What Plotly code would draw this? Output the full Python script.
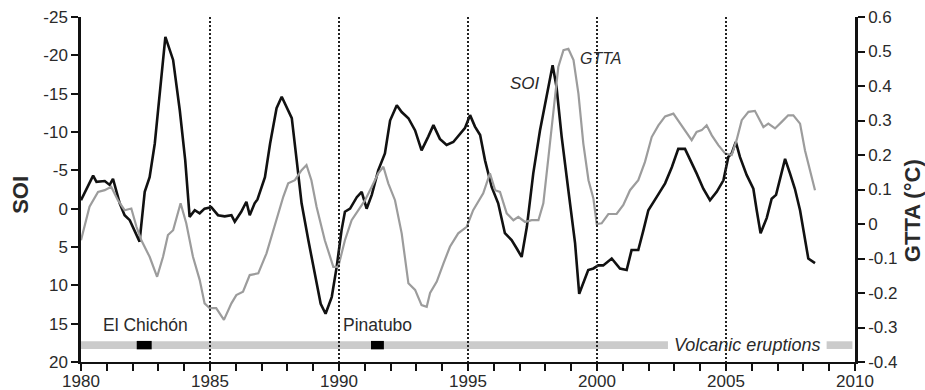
import plotly.graph_objects as go

# ---------------- data ----------------
soi_years = [1980.0, 1980.47, 1980.6, 1980.92, 1981.11, 1981.24, 1981.5, 1981.69, 1981.89, 1982.08,
             1982.27, 1982.47, 1982.66, 1982.86, 1983.05, 1983.27, 1983.57, 1983.83, 1984.04, 1984.21,
             1984.41, 1984.6, 1984.79, 1985.05, 1985.31, 1985.57, 1985.83, 1985.96, 1986.21, 1986.41,
             1986.54, 1986.73, 1986.84, 1987.13, 1987.33, 1987.58, 1987.78, 1987.97, 1988.17, 1988.36,
             1988.55, 1988.81, 1989.07, 1989.29, 1989.48, 1989.72, 1989.91, 1990.1, 1990.23, 1990.43,
             1990.69, 1990.88, 1991.07, 1991.27, 1991.52, 1991.78, 1991.98, 1992.24, 1992.43, 1992.69,
             1992.95, 1993.2, 1993.46, 1993.66, 1993.91, 1994.17, 1994.43, 1994.69, 1994.88, 1995.08,
             1995.27, 1995.47, 1995.66, 1995.92, 1996.17, 1996.43, 1996.69, 1996.89, 1997.08, 1997.28,
             1997.53, 1997.79, 1998.05, 1998.28, 1998.43, 1998.63, 1998.89, 1999.15, 1999.31, 1999.47,
             1999.66, 1999.86, 2000.05, 2000.24, 2000.57, 2000.89, 2001.15, 2001.34, 2001.6, 2001.8,
             2001.99, 2002.31, 2002.64, 2002.9, 2003.15, 2003.41, 2003.6, 2003.86, 2004.12, 2004.38,
             2004.64, 2004.9, 2005.09, 2005.22, 2005.38, 2005.54, 2005.8, 2006.06, 2006.19, 2006.34,
             2006.58, 2006.77, 2006.94, 2007.09, 2007.29, 2007.48, 2007.67, 2007.87, 2008.06, 2008.19,
             2008.45]
soi_values = [-1.1, -4.3, -3.5, -3.6, -3.1, -3.9, -0.7, 0.85, 1.5, 3.0,
              4.3, -2.2, -4.1, -8.5, -15.0, -22.4, -19.4, -12.8, -6.3, 1.07,
              0.2, 0.6, 0.0, -0.2, 0.85, 1.0, 0.85, 1.7, 0.4, -0.9,
              0.85, -0.7, -1.2, -4.1, -8.5, -13.1, -14.6, -13.3, -11.8, -6.3,
              -0.7, 4.1, 8.4, 12.4, 13.7, 11.5, 7.6, 2.8, 0.4, 0.0,
              -1.5, -2.2, 0.0, -1.8, -5.0, -7.2, -11.5, -13.5, -12.6, -11.8,
              -10.2, -7.6, -9.4, -10.9, -9.1, -8.3, -8.7, -9.8, -10.5, -12.2,
              -10.7, -9.6, -6.3, -2.8, -0.7, 3.2, 4.1, 5.2, 6.3, 2.4,
              -4.6, -10.2, -15.0, -18.7, -15.9, -9.4, -2.4, 4.5, 11.1, 9.7,
              8.0, 7.8, 7.4, 7.4, 6.5, 7.8, 8.0, 5.4, 5.4, 2.8,
              0.2, -1.5, -3.3, -5.4, -7.8, -7.8, -6.5, -4.6, -2.6, -1.1,
              -2.2, -3.7, -6.75, -7.2, -8.7, -6.75, -4.4, -2.6, 0.2, 3.2,
              1.2, -1.3, -1.8, -3.7, -6.5, -4.6, -2.6, 0.2, 3.7, 6.5,
              7.1]

gtta_years = [1980.0, 1980.33, 1980.66, 1980.92, 1981.17, 1981.43, 1981.69, 1981.95, 1982.15, 1982.34,
              1982.66, 1982.95, 1983.18, 1983.37, 1983.57, 1983.86, 1984.08, 1984.34, 1984.6, 1984.79,
              1984.99, 1985.24, 1985.54, 1985.83, 1986.02, 1986.28, 1986.54, 1986.87, 1987.19, 1987.52,
              1987.84, 1988.03, 1988.29, 1988.55, 1988.74, 1988.93, 1989.13, 1989.45, 1989.78, 1989.97,
              1990.23, 1990.49, 1990.75, 1991.01, 1991.27, 1991.52, 1991.72, 1991.91, 1992.17, 1992.43,
              1992.69, 1992.95, 1993.2, 1993.4, 1993.53, 1993.79, 1994.05, 1994.3, 1994.62, 1994.95,
              1995.2, 1995.59, 1995.85, 1996.05, 1996.24, 1996.5, 1996.76, 1996.95, 1997.21, 1997.47,
              1997.73, 1997.92, 1998.12, 1998.31, 1998.5, 1998.7, 1998.89, 1999.09, 1999.28, 1999.47,
              1999.67, 1999.86, 1999.99, 2000.18, 2000.44, 2000.76, 2001.02, 2001.28, 2001.6, 2001.86,
              2002.12, 2002.38, 2002.64, 2002.96, 2003.22, 2003.48, 2003.67, 2003.86, 2004.06, 2004.25,
              2004.45, 2004.71, 2004.97, 2005.22, 2005.41, 2005.61, 2005.87, 2006.12, 2006.32, 2006.45,
              2006.64, 2006.9, 2007.16, 2007.41, 2007.61, 2007.87, 2008.06, 2008.26, 2008.45]
gtta_values = [-0.047, 0.05, 0.093, 0.098, 0.108, 0.069, 0.040, 0.045, -0.008, -0.047,
               -0.095, -0.153, -0.095, -0.032, -0.018, 0.060, 0.002, -0.095, -0.162, -0.230,
               -0.244, -0.244, -0.278, -0.230, -0.206, -0.196, -0.148, -0.143, -0.085, 0.002,
               0.079, 0.118, 0.127, 0.156, 0.171, 0.127, 0.050, -0.047, -0.124, -0.124,
               -0.047, 0.011, 0.040, 0.069, 0.108, 0.147, 0.166, 0.118, 0.069, -0.027,
               -0.172, -0.191, -0.235, -0.240, -0.200, -0.167, -0.114, -0.066, -0.027, -0.008,
               0.040, 0.089, 0.147, 0.098, 0.093, 0.031, 0.011, 0.021, 0.006, 0.011,
               0.011, 0.060, 0.195, 0.330, 0.455, 0.504, 0.508, 0.475, 0.378, 0.233,
               0.127, 0.074, 0.0, 0.002, 0.029, 0.029, 0.055, 0.098, 0.127, 0.180,
               0.252, 0.286, 0.312, 0.320, 0.291, 0.262, 0.243, 0.267, 0.272, 0.286,
               0.257, 0.228, 0.204, 0.200, 0.243, 0.301, 0.325, 0.328, 0.301, 0.281,
               0.291, 0.277, 0.296, 0.315, 0.315, 0.291, 0.214, 0.156, 0.098]

eruption_names = ["El Chichón", "Pinatubo"]
eruption_start = [1982.16, 1991.24]
eruption_end = [1982.74, 1991.74]
eruption_label_x = [1982.5, 1991.5]

band_segments_start = [1980.0, 2008.9]
band_segments_end = [2002.75, 2009.9]

decade_marks = [1985, 1990, 1995, 2000, 2005]

x_tick_years = list(range(1980, 2011))
x_tick_text = [str(y) if y % 5 == 0 else "" for y in x_tick_years]
soi_ticks = [-25, -20, -15, -10, -5, 0, 5, 10, 15, 20]
soi_tick_text = ["-25", "-20", "-15", "-10", "-5", "0", "5", "10", "15", "20"]
gtta_ticks = [0.6, 0.5, 0.4, 0.3, 0.2, 0.1, 0.0, -0.1, -0.2, -0.3, -0.4]
gtta_tick_text = ["0.6", "0.5", "0.4", "0.3", "0.2", "0.1", "0", "-0.1", "-0.2", "-0.3", "-0.4"]

FONT = "Liberation Sans, Arial, sans-serif"
TXT = "#2a2a2a"

fig = go.Figure()
fig.add_trace(go.Scatter(x=gtta_years, y=gtta_values, mode="lines", yaxis="y2",
                         line=dict(color="#9c9c9c", width=2.2), showlegend=False))
fig.add_trace(go.Scatter(x=soi_years, y=soi_values, mode="lines", yaxis="y",
                         line=dict(color="#111111", width=2.6), showlegend=False))

shapes = []
for s, e in zip(band_segments_start, band_segments_end):
    shapes.append(dict(type="rect", xref="x", yref="y", x0=s, x1=e, y0=17.3, y1=18.3,
                       fillcolor="#cbcbcb", line=dict(width=0), layer="below"))
for d in decade_marks:
    shapes.append(dict(type="line", xref="x", yref="y", x0=d, x1=d, y0=-25, y1=20,
                       line=dict(color="#222222", width=2, dash="2px,2px")))
for s, e in zip(eruption_start, eruption_end):
    shapes.append(dict(type="rect", xref="x", yref="y", x0=s, x1=e, y0=17.25, y1=18.35,
                       fillcolor="#000000", line=dict(width=0)))

annotations = []
for name, lx in zip(eruption_names, eruption_label_x):
    annotations.append(dict(x=lx, y=15.2, xref="x", yref="y", text=name, showarrow=False,
                            font=dict(family=FONT, size=17.5, color=TXT)))
annotations.append(dict(x=2005.8, y=17.8, xref="x", yref="y", text="<i>Volcanic eruptions</i>",
                        showarrow=False, font=dict(family=FONT, size=18, color=TXT)))
annotations.append(dict(x=1997.2, y=-16.3, xref="x", yref="y", text="<i>SOI</i>",
                        showarrow=False, font=dict(family=FONT, size=17, color=TXT)))
annotations.append(dict(x=2000.15, y=-19.6, xref="x", yref="y", text="<i>GTTA</i>",
                        showarrow=False, font=dict(family=FONT, size=16, color=TXT)))
annotations.append(dict(x=-0.079, y=0.484, xref="paper", yref="paper", text="<b>SOI</b>",
                        xanchor="center", yanchor="middle",
                        textangle=-90, showarrow=False, font=dict(family=FONT, size=22, color=TXT)))
annotations.append(dict(x=1.0736, y=0.44, xref="paper", yref="paper", text="<b>GTTA (°C)</b>",
                        xanchor="center", yanchor="middle",
                        textangle=-90, showarrow=False, font=dict(family=FONT, size=22, color=TXT)))

fig.update_layout(
    width=925, height=390,
    margin=dict(l=81, r=70, t=17, b=28),
    paper_bgcolor="white", plot_bgcolor="white",
    shapes=shapes, annotations=annotations,
    xaxis=dict(range=[1980, 2010], tickvals=x_tick_years, ticktext=x_tick_text, ticks="outside",
               ticklen=7, tickwidth=2, tickcolor="#111", showline=True, linewidth=2,
               linecolor="#111", showgrid=False, zeroline=False, automargin=False,
               ticklabelstandoff=-4,
               tickfont=dict(family=FONT, size=17, color=TXT)),
    yaxis=dict(range=[20, -25], tickvals=soi_ticks, ticktext=soi_tick_text, ticks="outside",
               ticklen=7, tickwidth=2, tickcolor="#111", showline=True, linewidth=2.5,
               linecolor="#111", showgrid=False, zeroline=False, automargin=False,
               tickfont=dict(family=FONT, size=17, color=TXT)),
    yaxis2=dict(range=[-0.4, 0.6], overlaying="y", side="right", tickvals=gtta_ticks,
                ticktext=gtta_tick_text, ticks="outside", ticklen=7, tickwidth=2, tickcolor="#111",
                showline=True, linewidth=2.5, linecolor="#111", showgrid=False, zeroline=False,
                automargin=False, tickfont=dict(family=FONT, size=17, color=TXT)),
)

fig.write_html("out.html", config={"displayModeBar": False},
               post_script="document.body.style.margin='0';document.body.style.overflow='hidden';")
